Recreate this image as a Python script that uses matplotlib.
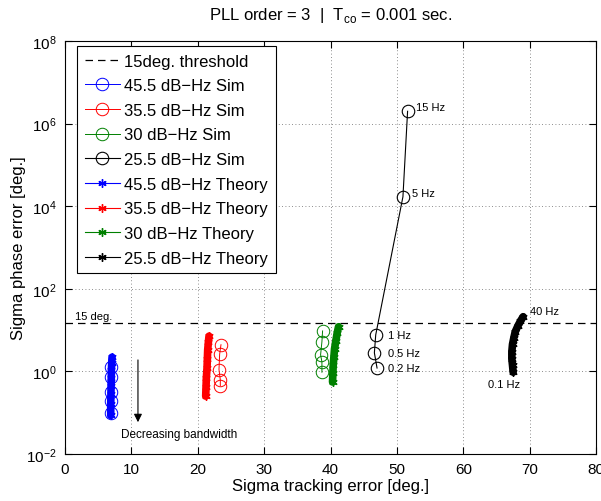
import matplotlib.pyplot as plt
import matplotlib.ticker as mticker

plt.rcParams['font.family'] = ['Liberation Sans', 'DejaVu Sans']
plt.rcParams['mathtext.fontset'] = 'custom'
plt.rcParams['mathtext.rm'] = 'Liberation Sans'

# simulation points (sigma tracking error, sigma phase error)
sim_45_x = [6.9, 6.9, 6.9, 6.9, 6.9]
sim_45_y = [1.3, 0.72, 0.31, 0.19, 0.10]
sim_35_x = [23.5, 23.3, 23.2, 23.4, 23.4]
sim_35_y = [4.4, 2.6, 1.1, 0.62, 0.45]
sim_30_x = [38.8, 38.7, 38.5, 38.7, 38.7]
sim_30_y = [9.5, 5.2, 2.5, 1.7, 0.95]
sim_25_x = [47.0, 46.6, 46.8, 50.9, 51.6]
sim_25_y = [1.2, 2.8, 7.6, 1.7e4, 2.0e6]

# theory curves
th_45_x = [7.1, 7.05, 7.0, 6.98, 6.95, 6.93, 6.9, 6.9]
th_45_y = [2.2, 1.6, 1.1, 0.7, 0.45, 0.28, 0.16, 0.085]
th_35_x = [21.7, 21.6, 21.5, 21.45, 21.4, 21.3, 21.25, 21.2]
th_35_y = [7.1, 5.0, 3.3, 2.0, 1.2, 0.7, 0.42, 0.25]
th_30_x = [41.2, 41.0, 40.8, 40.6, 40.5, 40.4, 40.35, 40.3]
th_30_y = [12.0, 8.5, 5.5, 3.5, 2.2, 1.4, 0.9, 0.55]
th_25_x = [67.5, 67.4, 67.3, 67.3, 67.4, 67.6, 67.8, 68.2, 68.6, 69.0]
th_25_y = [0.95, 1.4, 2.0, 3.0, 4.5, 6.5, 9.0, 12.5, 16.5, 21.0]

threshold = 15

fig = plt.figure(figsize=(6.01, 5.02), dpi=100)
ax = fig.add_axes([0.108, 0.094, 0.884, 0.822])

ax.axhline(threshold, color='k', ls=(0, (6, 4)), lw=0.9, label='15deg. threshold')

ax.plot(sim_45_x, sim_45_y, 'o-', color='b', mfc='none', ms=9, lw=0.7, mew=0.7, label='45.5 dB\u2212Hz Sim')
ax.plot(sim_35_x, sim_35_y, 'o-', color='r', mfc='none', ms=9, lw=0.7, mew=0.7, label='35.5 dB\u2212Hz Sim')
ax.plot(sim_30_x, sim_30_y, 'o-', color='g', mfc='none', ms=9, lw=0.7, mew=0.7, label='30 dB\u2212Hz Sim')
ax.plot(sim_25_x, sim_25_y, 'o-', color='k', mfc='none', ms=9, lw=0.8, mew=0.8, label='25.5 dB\u2212Hz Sim')

# asterisk marker like matlab '*'
star = (6, 2, 0)
for tx, ty, c, lab in [(th_45_x, th_45_y, 'b', '45.5 dB\u2212Hz Theory'),
                       (th_35_x, th_35_y, 'r', '35.5 dB\u2212Hz Theory'),
                       (th_30_x, th_30_y, 'g', '30 dB\u2212Hz Theory'),
                       (th_25_x, th_25_y, 'k', '25.5 dB\u2212Hz Theory')]:
    ax.plot(tx, ty, '-', color=c, lw=5.5, solid_capstyle='round')
    ax.plot(tx, ty, '-', marker=star, color=c, ms=6, mew=1.0, lw=0.8, label=lab)

ax.set_yscale('log')
ax.set_xlim(0, 80)
ax.set_ylim(1e-2, 1e8)
ax.set_xticks(range(0, 81, 10))
ax.set_yticks([1e-2, 1e0, 1e2, 1e4, 1e6, 1e8])
ax.yaxis.set_minor_locator(mticker.NullLocator())
ax.tick_params(direction='in', top=True, right=True, labelsize=11, length=5, pad=6)
ax.grid(True, ls=(0, (1, 3)), color='k', lw=0.6, alpha=0.6)

ax.set_xlabel('Sigma tracking error [deg.]', fontsize=12, labelpad=1)
ax.set_ylabel('Sigma phase error [deg.]', fontsize=12, labelpad=0)
ax.set_title('PLL order = 3  |  T$_{\\mathregular{co}}$ = 0.001 sec.', fontsize=12, pad=16)

ax.text(1.5, 19, '15 deg.', fontsize=8)
ax.text(52.8, 2.1e6, '15 Hz', fontsize=8)
ax.text(52.2, 1.8e4, '5 Hz', fontsize=8)
ax.text(48.6, 7.6, '1 Hz', fontsize=8, va='center')
ax.text(48.6, 2.8, '0.5 Hz', fontsize=8, va='center')
ax.text(48.6, 1.2, '0.2 Hz', fontsize=8, va='center')
ax.text(70.0, 24, '40 Hz', fontsize=8)
ax.text(63.7, 0.5, '0.1 Hz', fontsize=8, va='center')
ax.text(8.5, 0.03, 'Decreasing bandwidth', fontsize=8.5, va='center')
ax.annotate('', xy=(11, 0.05), xytext=(11, 2.2),
            arrowprops=dict(arrowstyle='-|>', color='k', lw=0.8, mutation_scale=12))

leg = ax.legend(loc='upper left', bbox_to_anchor=(77 / 601, 1 - 47 / 502),
                bbox_transform=fig.transFigure, fontsize=12, handlelength=2.1,
                numpoints=1, fancybox=False, edgecolor='k', framealpha=1,
                borderpad=0.45, labelspacing=0.58, handletextpad=0.3, borderaxespad=0)
leg.get_frame().set_linewidth(0.8)

fig.savefig('out.png', dpi=100)
